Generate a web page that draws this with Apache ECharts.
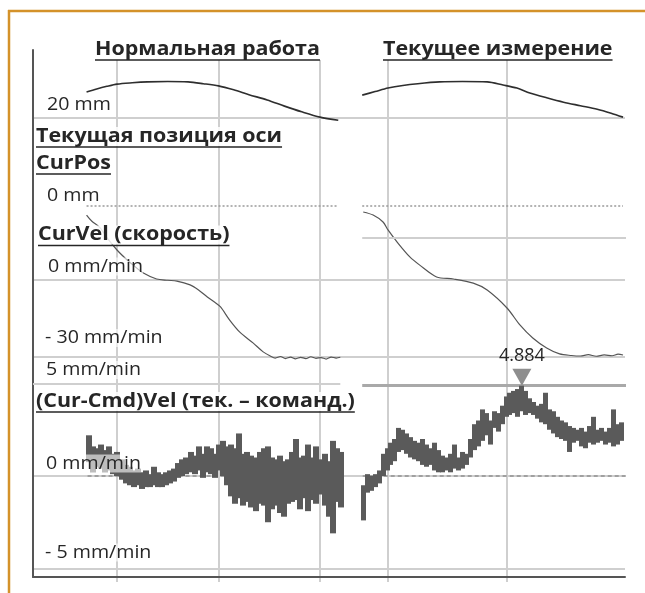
<!DOCTYPE html>
<html><head><meta charset="utf-8">
<script src="https://cdn.jsdelivr.net/npm/echarts@6/dist/echarts.min.js"></script>
<style>html,body{margin:0;padding:0;background:#fff}#c{width:645px;height:593px}</style>
</head><body><div id="c"></div>
<script>
// ---------------- data ----------------
const headers = ['Нормальная работа', 'Текущее измерение'];
const channelTitles = ['Текущая позиция оси', 'CurPos', 'CurVel (скорость)', '(Cur-Cmd)Vel (тек. – команд.)'];
const posTickLabels = ['20 mm', '0 mm'];
const velTickLabels = ['0 mm/min', '- 30 mm/min'];
const diffTickLabels = ['5 mm/min', '0 mm/min', '- 5 mm/min'];

// position (mm) – normal run (left) and current measurement (right)
const posLeftT = [70, 80, 90, 100, 115, 130, 150, 170, 185, 200, 215, 230, 248, 265, 282, 300, 318];
const posLeft  = [25.9, 26.6, 27.2, 27.7, 28.0, 28.2, 28.3, 28.2, 27.8, 27.3, 26.4, 25.3, 24.1, 22.7, 21.4, 20.2, 19.5];
const posRightT = [94, 107, 120, 135, 150, 172, 195, 220, 236, 250, 263, 280, 297, 314, 331, 345, 357];
const posRight  = [25.2, 26.0, 26.8, 27.4, 27.8, 28.2, 28.3, 28.2, 27.5, 26.8, 25.7, 24.6, 23.6, 22.8, 22.0, 21.1, 20.2];

// velocity (mm/min)
const velLeftT = [70, 75, 83, 91, 100, 110, 116, 126, 139, 150, 159, 172, 180, 189, 196, 202, 211, 221, 234, 244, 251, 256, 261, 266, 271, 276, 281, 286, 291, 296, 301, 306, 311, 316, 320];
const velLeft  = [25.3, 23.0, 20.5, 16.0, 11.7, 7.8, 5.8, 2.7, 0.4, -0.1, -0.4, -1.9, -3.8, -6.6, -8.6, -10.5, -15.6, -20.3, -24.5, -28.0, -29.6, -30.4, -29.8, -30.6, -30.0, -30.7, -30.1, -30.6, -29.9, -30.5, -30.2, -30.8, -30.0, -30.4, -30.1];
const velRightT = [95, 105, 115, 120, 130, 142, 152, 169, 186, 206, 220, 240, 253, 266, 280, 293, 305, 314, 322, 330, 338, 346, 352, 357];
const velRight  = [26.5, 25.3, 22.6, 19.5, 14.4, 9.0, 5.8, 1.2, 0.4, -1.2, -3.9, -10.9, -17.5, -22.6, -26.5, -28.8, -29.4, -29.6, -29.1, -29.7, -29.2, -29.5, -28.9, -29.2];
const velRightRefLine = 16.4;

// (Cur-Cmd)Vel, mm/min: per sample upper / lower envelope
const diffStep = 4;
const diffLeftStart = 72;
const diffLeftHi = [2.2,1.6,1.5,1.7,1.4,1.6,1.2,1.3,0.9,0.6, 0.5,0.3,0.4,0.2,0.3,0.1,0.5,0.2,0.1,0.2, 0.3,0.4,0.7,0.9,1.0,1.3,1.1,1.6,1.2, 1.6,1.5,1.2,1.7,1.9,1.6,1.7,1.5,2.3,1.2, 1.3,1.1,1.0,1.3,1.5,1.6,1.0,0.9,1.1,0.8, 0.9,1.3,2.0,1.0,1.1,1.7,1.0,1.6,0.9,1.2, 0.8,1.9,1.5,1.3];
const diffLeftLo = [0.75,0.2,0.5,0.4,0.2,0.3,0.1,0.0,-0.2,-0.4, -0.5,-0.6,-0.5,-0.7,-0.6,-0.6,-0.5,-0.6,-0.6,-0.5, -0.4,-0.3,-0.1,0.0,0.1,0.2,0.1,0.3,-0.1, 0.2,0.1,-0.1,0.3,0.0,-0.5,-1.1,-1.5,-1.2,-1.6, -1.4,-1.7,-1.9,-1.5,-1.6,-2.5,-1.8,-1.6,-2.0,-2.2, -1.5,-1.4,-1.3,-1.8,-1.2,-1.9,-1.3,-1.5,-1.0,-1.6, -2.2,-3.1,-1.4,-1.7];
const diffRightStart = 95;
const diffRightHi = [-0.5,0.1,0.0,0.1,0.3,1.2,1.5,1.8,2.0,2.6, 2.5,2.3,2.1,1.9,1.8,2.0,1.7,1.5,1.8,1.4, 1.1,1.0,1.2,1.7,1.0,1.3,1.2,2.0,2.8,3.0, 3.6,3.4,3.0,3.5,3.4,3.8,4.3,4.5,4.6,4.7, 4.884,4.6,4.2,4.0,3.8,3.9,4.5,3.6,3.5,3.2, 3.0,2.9,2.7,2.6,2.5,2.6,2.4,2.7,3.2,2.5, 2.6,2.4,2.6,3.6,2.8,2.9];
const diffRightLo = [-2.4,-0.9,-0.8,-0.6,-0.4,0.0,0.3,0.6,0.8,1.3, 1.4,1.2,1.0,0.9,0.8,0.6,0.5,0.6,0.3,0.2, 0.2,0.3,0.2,0.4,0.3,0.4,0.6,1.0,1.4,1.6, 1.9,2.2,1.7,2.6,2.4,2.8,3.2,3.3,3.4,3.2, 3.5,3.3,3.4,3.3,3.1,2.9,2.8,2.5,2.3,2.1, 2.0,1.9,1.3,1.8,1.9,1.6,1.5,1.8,1.7,1.8, 1.9,1.7,1.8,1.6,1.7,1.9];

// ---------------- helpers ----------------
const zip = (t, v) => t.map((x, i) => [x, v[i]]);
const band = (start, hi, lo) => hi.map((h, i) => [start + i * diffStep, lo[i], h]);
const diffLeftData = band(diffLeftStart, diffLeftHi, diffLeftLo);
const diffRightData = band(diffRightStart, diffRightHi, diffRightLo);
const peakVal = Math.max(...diffRightHi);
const peakIdx = diffRightHi.indexOf(peakVal);
const peakT = diffRightStart + peakIdx * diffStep;

const GRID_LINE = '#cfcfcf';
const TEXT = '#262626';
const LX = { left: 15.5, width: 324.8 }, LMAX = 320;
const RX = { left: 269, width: 357 }, RMAX = 360;

const grids = [
  { left: 15.5, width: 324.8, top: 60, height: 522 },   // 0 frame left (vertical grid)
  { left: 269, width: 357, top: 60, height: 522 },      // 1 frame right (vertical grid)
  { left: 33, width: 592, top: 50, height: 527 },       // 2 axes L-frame
  { left: 33, width: 592, top: 118, height: 88 },       // 3 pos horizontal lines
  { left: 33, width: 592, top: 280, height: 77 },       // 4 vel horizontal lines
  { left: 33, width: 592, top: 383.5, height: 185 },    // 5 diff horizontal lines
  Object.assign({ top: 74, height: 132 }, LX),          // 6 left pos
  Object.assign({ top: 203, height: 179.7 }, LX),       // 7 left vel
  Object.assign({ top: 383.5, height: 185 }, LX),       // 8 left diff
  Object.assign({ top: 74, height: 132 }, RX),          // 9 right pos
  Object.assign({ top: 203, height: 179.7 }, RX),       // 10 right vel
  Object.assign({ top: 383.5, height: 185 }, RX)        // 11 right diff
].map(g => Object.assign({ containLabel: false, outerBoundsMode: 'none' }, g));

const hidden = { axisLine: { show: false }, axisTick: { show: false }, axisLabel: { show: false }, splitLine: { show: false } };
const xAxis = [
  Object.assign({}, hidden, { gridIndex: 0, type: 'value', min: 0, max: LMAX, interval: 100,
    splitLine: { show: true, showMinLine: false, showMaxLine: false, lineStyle: { color: GRID_LINE, width: 2 } } }),
  Object.assign({}, hidden, { gridIndex: 1, type: 'value', min: 0, max: RMAX, interval: 120,
    splitLine: { show: true, showMinLine: false, showMaxLine: false, lineStyle: { color: GRID_LINE, width: 2 } } }),
  Object.assign({}, hidden, { gridIndex: 2, type: 'value', min: 0, max: 1,
    axisLine: { show: true, lineStyle: { color: '#555', width: 2 } } }),
  Object.assign({}, hidden, { gridIndex: 3, type: 'value', min: 0, max: 1, show: false }),
  Object.assign({}, hidden, { gridIndex: 4, type: 'value', min: 0, max: 1, show: false }),
  Object.assign({}, hidden, { gridIndex: 5, type: 'value', min: 0, max: 1, show: false }),
  { gridIndex: 6, type: 'value', min: 0, max: LMAX, show: false },
  { gridIndex: 7, type: 'value', min: 0, max: LMAX, show: false },
  { gridIndex: 8, type: 'value', min: 0, max: LMAX, show: false },
  { gridIndex: 9, type: 'value', min: 0, max: RMAX, show: false },
  { gridIndex: 10, type: 'value', min: 0, max: RMAX, show: false },
  { gridIndex: 11, type: 'value', min: 0, max: RMAX, show: false }
];
const hLine = { show: true, lineStyle: { color: GRID_LINE, width: 2 } };
const yAxis = [
  { gridIndex: 0, type: 'value', min: 0, max: 1, show: false },
  { gridIndex: 1, type: 'value', min: 0, max: 1, show: false },
  Object.assign({}, hidden, { gridIndex: 2, type: 'value', min: 0, max: 1,
    axisLine: { show: true, lineStyle: { color: '#555', width: 2 } } }),
  Object.assign({}, hidden, { gridIndex: 3, type: 'value', min: 0, max: 20, interval: 20,
    splitLine: Object.assign({ showMinLine: false }, hLine) }),
  Object.assign({}, hidden, { gridIndex: 4, type: 'value', min: -30, max: 0, interval: 30, splitLine: hLine }),
  Object.assign({}, hidden, { gridIndex: 5, type: 'value', min: -5, max: 5, interval: 5,
    splitLine: Object.assign({ showMaxLine: false }, hLine) }),
  { gridIndex: 6, type: 'value', min: 0, max: 30, show: false },
  { gridIndex: 7, type: 'value', min: -40, max: 30, show: false },
  { gridIndex: 8, type: 'value', min: -5, max: 5, show: false },
  { gridIndex: 9, type: 'value', min: 0, max: 30, show: false },
  { gridIndex: 10, type: 'value', min: -40, max: 30, show: false },
  { gridIndex: 11, type: 'value', min: -5, max: 5, show: false }
];

const seg = (t1, t2, v, style) => [{ coord: [t1, v], lineStyle: style }, { coord: [t2, v] }];
const dotFine = { color: '#9a9a9a', width: 1.5, type: [2, 2] };
const dotBold = { color: '#a0a0a0', width: 2.2, type: [4, 3] };
const mk = (data, z) => ({ symbol: ['none', 'none'], silent: true, animation: false, z: z == null ? 5 : z, label: { show: false }, data });

function bandItem(params, api) {
  const t = api.value(0), lo = api.value(1), hi = api.value(2);
  const a = api.coord([t, hi]), b = api.coord([t, lo]);
  const w = api.size([diffStep, 0])[0];
  const x0 = Math.floor(a[0] - w / 2);
  return { type: 'rect', shape: { x: x0, y: a[1], width: Math.ceil(w) + 1, height: Math.max(b[1] - a[1], 1.5) },
    style: { fill: '#5a5a5a' } };
}

const series = [
  { type: 'line', xAxisIndex: 6, yAxisIndex: 6, data: zip(posLeftT, posLeft), showSymbol: false, smooth: 0.3,
    lineStyle: { color: '#2e2e2e', width: 1.6 }, markLine: mk([seg(70, 318, 0, dotFine)]) },
  { type: 'line', xAxisIndex: 7, yAxisIndex: 7, data: zip(velLeftT, velLeft), showSymbol: false, smooth: 0.3,
    lineStyle: { color: '#555', width: 1.2 } },
  { type: 'custom', z: 3, xAxisIndex: 8, yAxisIndex: 8, data: diffLeftData, renderItem: bandItem, encode: { x: 0, y: [1, 2] },
    markLine: mk([seg(71, LMAX, 0, dotBold), seg(17.2, LMAX, 5, { color: GRID_LINE, width: 2, type: 'solid' })], 1) },
  { type: 'line', xAxisIndex: 9, yAxisIndex: 9, data: zip(posRightT, posRight), showSymbol: false, smooth: 0.3,
    lineStyle: { color: '#2e2e2e', width: 1.6 }, markLine: mk([seg(94, 357, 0, dotFine)]) },
  { type: 'line', xAxisIndex: 10, yAxisIndex: 10, data: zip(velRightT, velRight), showSymbol: false, smooth: 0.3,
    lineStyle: { color: '#555', width: 1.2 },
    markLine: mk([seg(94, RMAX, velRightRefLine, { color: GRID_LINE, width: 2, type: 'solid' })]) },
  { type: 'custom', z: 3, xAxisIndex: 11, yAxisIndex: 11, data: diffRightData, renderItem: bandItem, encode: { x: 0, y: [1, 2] },
    markLine: mk([seg(94.5, RMAX, 0, dotBold), seg(94, RMAX, peakVal, { color: '#a9a9a9', width: 3.2, type: 'solid' })], 1),
    markPoint: { animation: false, silent: true,
      data: [{ coord: [peakT, peakVal], value: peakVal }],
      symbol: 'path://M0,0 L20,0 L10,17 Z', symbolSize: [19, 17], symbolOffset: [0, '-50%'],
      itemStyle: { color: '#8e8e8e' },
      label: { show: true, position: 'top', distance: 4, color: TEXT, fontSize: 18,
        fontFamily: '"Open Sans", sans-serif', formatter: p => Number(p.value).toFixed(3) } } }
];

// ---------------- texts ----------------
const FAMILY = '"Open Sans", "Noto Sans", sans-serif';
const ctx = document.createElement('canvas').getContext('2d');
const elements = [];
function addText(text, x, yc, bold, bg) {
  const fs = bold ? 19 : 18, sx = bold ? 1.13 : 1.09;
  const font = (bold ? 'bold ' : '') + fs + 'px ' + FAMILY;
  ctx.font = font;
  const w = ctx.measureText(text).width * sx;
  elements.push({ type: 'text', x: x, y: yc, scaleX: sx, z: 100, silent: true,
    style: { text: text, font: font, fill: TEXT, align: 'left', verticalAlign: 'middle', backgroundColor: bg } });
  if (bold) {
    elements.push({ type: 'line', z: 101, silent: true, shape: { x1: x, y1: yc + 10.5, x2: x + w, y2: yc + 10.5 },
      style: { stroke: TEXT, lineWidth: 1.6 } });
  }
}
const TBG = 'rgba(255,255,255,0.85)', LBG = 'rgba(255,255,255,0.6)';
addText(headers[0], 95, 49.5, true, null);
addText(headers[1], 383, 49.5, true, null);
addText(channelTitles[0], 36, 136.5, true, TBG);
addText(channelTitles[1], 36, 163.5, true, TBG);
addText(channelTitles[2], 38, 235, true, TBG);
addText(channelTitles[3], 36, 401.5, true, TBG);
addText(posTickLabels[0], 47, 104.5, false, LBG);
addText(posTickLabels[1], 47, 195.5, false, LBG);
addText(velTickLabels[0], 48, 266.5, false, LBG);
addText(velTickLabels[1], 45, 338, false, LBG);
addText(diffTickLabels[0], 46, 370, false, LBG);
addText(diffTickLabels[1], 46, 463.5, false, LBG);
addText(diffTickLabels[2], 45, 552.5, false, LBG);
// orange frame
elements.push({ type: 'line', z: 100, silent: true, shape: { x1: 8, y1: 11, x2: 645, y2: 11 }, style: { stroke: '#d4922a', lineWidth: 2.5 } });
elements.push({ type: 'line', z: 100, silent: true, shape: { x1: 9, y1: 10, x2: 9, y2: 593 }, style: { stroke: '#d4922a', lineWidth: 2.5 } });

const chart = echarts.init(document.getElementById('c'), null, { renderer: 'canvas' });
chart.setOption({
  backgroundColor: '#ffffff',
  animation: false,
  grid: grids,
  xAxis: xAxis,
  yAxis: yAxis,
  series: series,
  graphic: { elements: elements }
});
</script></body></html>
